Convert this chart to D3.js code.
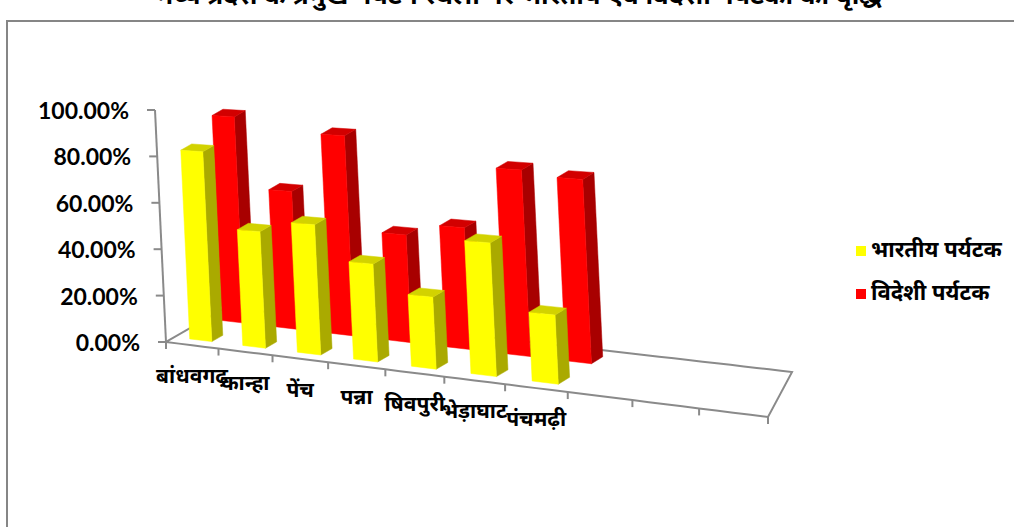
<!DOCTYPE html>
<html>
<head>
<meta charset="utf-8">
<script src="https://cdn.jsdelivr.net/npm/d3@7"></script>
<style>
  html, body { margin: 0; padding: 0; background: #fff; }
  svg { display: block; }
</style>
</head>
<body>
<svg id="chart" width="1014" height="527"></svg>
<script>
// ---- data ----
const categories = ["बांधवगढ़", "कान्हा", "पेंच", "पन्ना", "षिवपुरी", "भेड़ाघाट", "पंचमढ़ी"];
const slotCount = 10; // category axis keeps three empty slots on the right
const seriesNames = ["भारतीय  पर्यटक", "विदेशी पर्यटक"];
const indianTourists = [0.81, 0.49, 0.54, 0.40, 0.29, 0.53, 0.27];
const foreignTourists = [0.88, 0.58, 0.83, 0.44, 0.49, 0.74, 0.72];
const valueTicks = [0, 0.2, 0.4, 0.6, 0.8, 1.0];
const titleText = "मध्य प्रदेश के प्रमुख पर्यटन स्थलों पर भारतीय एवं विदेशी पर्यटकों की वृद्धि";

const seriesValues = [indianTourists, foreignTourists];
const faceColors = [
  { front: "#FFFF00", side: "#AAAA00", top: "#D2D200" },
  { front: "#FF0000", side: "#A80000", top: "#D20000" }
];

const svg = d3.select("#chart");
const devFont = "'Noto Sans Devanagari', 'Lohit Devanagari', 'Mangal', 'Noto Sans', sans-serif";

// ---- 3D view: category position t, depth z, value v (all 0..1) -> screen ----
const origin = [166, 342];
const alongX = [517.7, 64.5];
const depthLeft = [60, -34.5], depthRight = [20.7, -38.7];
const upV = [-11, -232];
const persp = 0.14;
function project(t, z, v) {
  const w = 1 - persp * t;
  const k = Math.pow(t, 6);
  const dx = depthLeft[0] + (depthRight[0] - depthLeft[0]) * k;
  const dy = depthLeft[1] + (depthRight[1] - depthLeft[1]) * k;
  return [origin[0] + (t * alongX[0] + z * dx + v * upV[0]) / w,
          origin[1] + (t * alongX[1] + z * dy + v * upV[1]) / w];
}

// ---- scales ----
const slot = d3.scaleBand().domain(d3.range(slotCount)).range([0, 1]);
const x = d3.scaleBand().domain(d3.range(slotCount)).range([0, 1]).paddingInner(0.58).paddingOuter(0.29);
const z = d3.scaleBand().domain(d3.range(seriesNames.length)).range([0, 1]).paddingInner(0.66).paddingOuter(0.27);
const y = d3.scaleLinear().domain([0, 1]).range([0, 1]);
const pct = d3.format(".2%");

const line = d3.line();
const gridStroke = "#8a8a8a";

// ---- outer frame ----
svg.append("path")
  .attr("d", "M7,527 L7,21 L1014,21")
  .attr("fill", "none").attr("stroke", "#868686").attr("stroke-width", 2);

// ---- title (sits above the frame) ----
svg.append("text")
  .attr("x", 519).attr("y", 4)
  .attr("text-anchor", "middle")
  .attr("font-family", devFont)
  .attr("font-size", 26).attr("font-weight", "bold")
  .text(titleText);

// ---- floor ----
const floorPts = [];
const N = 40;
for (let i = 0; i <= N; i++) floorPts.push(project(i / N, 0, 0));
for (let i = 0; i <= N; i++) floorPts.push(project(1, i / N, 0));
for (let i = N; i >= 0; i--) floorPts.push(project(i / N, 1, 0));
svg.append("path")
  .attr("d", line(floorPts) + "Z")
  .attr("fill", "none").attr("stroke", gridStroke).attr("stroke-width", 2)
  .attr("stroke-linejoin", "miter");

// category tick marks on the front edge
const tickPos = d3.range(slotCount + 1).map(k => k === slotCount ? 1 : slot(k));
svg.append("g").selectAll("line").data(tickPos).join("line")
  .attr("x1", t => project(t, 0, 0)[0]).attr("y1", t => project(t, 0, 0)[1])
  .attr("x2", t => project(t, 0, 0)[0]).attr("y2", t => project(t, 0, 0)[1] + 7)
  .attr("stroke", gridStroke).attr("stroke-width", 2);

// ---- value axis ----
const a0 = project(0, 0, y(0)), a1 = project(0, 0, y(1));
svg.append("line")
  .attr("x1", a0[0]).attr("y1", a0[1]).attr("x2", a1[0]).attr("y2", a1[1])
  .attr("stroke", gridStroke).attr("stroke-width", 2);
const vAxis = svg.append("g");
valueTicks.forEach(v => {
  const p = project(0, 0, y(v));
  vAxis.append("line")
    .attr("x1", p[0] - 8).attr("y1", p[1]).attr("x2", p[0]).attr("y2", p[1])
    .attr("stroke", gridStroke).attr("stroke-width", 2);
  vAxis.append("text")
    .attr("x", p[0] - 26).attr("y", p[1])
    .attr("text-anchor", "end").attr("dominant-baseline", "central")
    .attr("font-family", "Lato, 'Liberation Sans', sans-serif")
    .attr("font-weight", "bold").attr("font-size", 23)
    .attr("fill", "#000")
    .text(pct(v));
});

// ---- bars: back row first, then front row ----
const barsG = svg.append("g");
for (let s = seriesNames.length - 1; s >= 0; s--) {
  const vals = seriesValues[s];
  const z0 = z(s), z1 = z0 + z.bandwidth();
  const c = faceColors[s];
  vals.forEach((val, i) => {
    const x0 = x(i), x1 = x0 + x.bandwidth();
    const v = y(val);
    const g = barsG.append("g");
    const front = [project(x0, z0, 0), project(x1, z0, 0), project(x1, z0, v), project(x0, z0, v)];
    const side = [project(x1, z0, 0), project(x1, z1, 0), project(x1, z1, v), project(x1, z0, v)];
    const top = [project(x0, z0, v), project(x1, z0, v), project(x1, z1, v), project(x0, z1, v)];
    g.append("path").attr("d", line(side) + "Z").attr("fill", c.side).attr("stroke", c.side).attr("stroke-width", 0.5);
    g.append("path").attr("d", line(top) + "Z").attr("fill", c.top).attr("stroke", c.top).attr("stroke-width", 0.5);
    g.append("path").attr("d", line(front) + "Z").attr("fill", c.front).attr("stroke", c.front).attr("stroke-width", 0.5);
  });
}

// ---- category labels ----
svg.append("g").selectAll("text").data(categories).join("text")
  .attr("x", (d, i) => project(slot(i) + slot.bandwidth() / 2, 0, 0)[0])
  .attr("y", (d, i) => project(slot(i) + slot.bandwidth() / 2, 0, 0)[1] + 33)
  .attr("text-anchor", "middle").attr("dominant-baseline", "central")
  .attr("font-family", devFont).attr("font-size", 21).attr("font-weight", "bold")
  .attr("fill", "#000")
  .text(d => d);

// ---- legend ----
const legend = svg.append("g");
seriesNames.forEach((name, s) => {
  const ly = 251 + s * 43;
  legend.append("rect")
    .attr("x", 856).attr("y", ly - 5).attr("width", 10).attr("height", 10)
    .attr("fill", faceColors[s].front);
  legend.append("text")
    .attr("x", 871).attr("y", ly)
    .attr("dominant-baseline", "central")
    .attr("font-family", devFont).attr("font-size", 22).attr("font-weight", "bold")
    .attr("fill", "#000")
    .text(name);
});
</script>
</body>
</html>
